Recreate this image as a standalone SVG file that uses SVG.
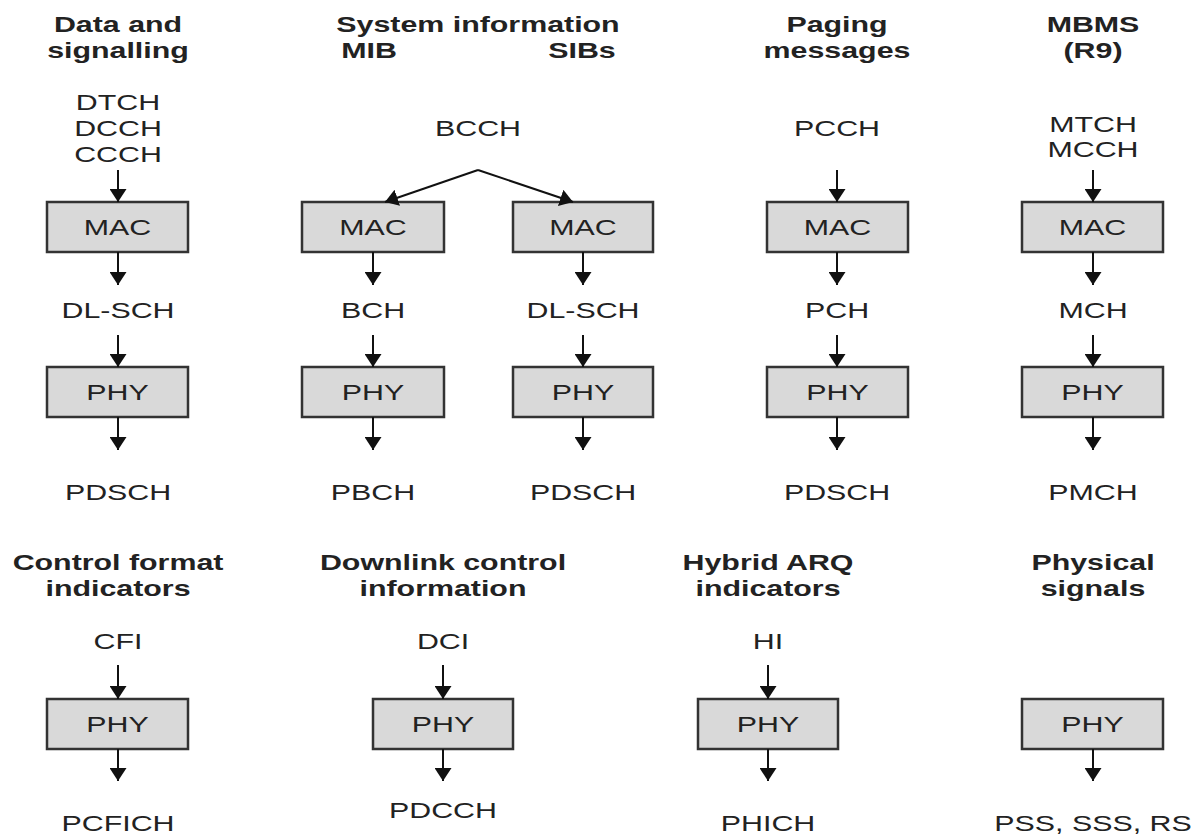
<svg xmlns="http://www.w3.org/2000/svg" width="1200" height="834" viewBox="0 0 1200 834">
<style>
.t{font-family:"Liberation Sans",Arial,Helvetica,sans-serif;font-size:22px;fill:#222;text-anchor:middle}
.b{font-weight:bold}
.box{fill:#d9d9d9;stroke:#333;stroke-width:2.5}
.c{fill:none;stroke:#111;stroke-width:2;marker-end:url(#ah)}
</style>
<defs>
<marker id="ah" viewBox="0 0 13 17" markerWidth="13" markerHeight="17" refX="13" refY="8.5" orient="auto" markerUnits="userSpaceOnUse">
<path d="M0,0 L13,8.5 L0,17 z" fill="#111"/>
</marker>
</defs>
<rect width="1200" height="834" fill="#fff"/>

<!-- Titles -->
<g id="title-data">
<text class="t b" transform="translate(118 32) scale(1.38 1)">Data and</text>
<text class="t b" transform="translate(118 58) scale(1.38 1)">signalling</text>
</g>
<g id="title-sysinfo">
<text class="t b" transform="translate(478 32) scale(1.38 1)">System information</text>
<text class="t b" transform="translate(369 58) scale(1.38 1)">MIB</text>
<text class="t b" transform="translate(582 58) scale(1.38 1)">SIBs</text>
</g>
<g id="title-paging">
<text class="t b" transform="translate(837 32) scale(1.38 1)">Paging</text>
<text class="t b" transform="translate(837 58) scale(1.38 1)">messages</text>
</g>
<g id="title-mbms">
<text class="t b" transform="translate(1093 32) scale(1.38 1)">MBMS</text>
<text class="t b" transform="translate(1093 58) scale(1.38 1)">(R9)</text>
</g>
<g id="title-cfi">
<text class="t b" transform="translate(118 570) scale(1.38 1)">Control format</text>
<text class="t b" transform="translate(118 596) scale(1.38 1)">indicators</text>
</g>
<g id="title-dci">
<text class="t b" transform="translate(443 570) scale(1.38 1)">Downlink control</text>
<text class="t b" transform="translate(443 596) scale(1.38 1)">information</text>
</g>
<g id="title-hi">
<text class="t b" transform="translate(768 570) scale(1.38 1)">Hybrid ARQ</text>
<text class="t b" transform="translate(768 596) scale(1.38 1)">indicators</text>
</g>
<g id="title-phys">
<text class="t b" transform="translate(1093 570) scale(1.38 1)">Physical</text>
<text class="t b" transform="translate(1093 596) scale(1.38 1)">signals</text>
</g>

<!-- Logical channels -->
<g id="lc-data">
<text class="t" transform="translate(118 110) scale(1.38 1)">DTCH</text>
<text class="t" transform="translate(118 136) scale(1.38 1)">DCCH</text>
<text class="t" transform="translate(118 162) scale(1.38 1)">CCCH</text>
</g>
<g id="lc-bcch"><text class="t" transform="translate(478 136) scale(1.38 1)">BCCH</text></g>
<g id="lc-pcch"><text class="t" transform="translate(837 136) scale(1.38 1)">PCCH</text></g>
<g id="lc-mbms">
<text class="t" transform="translate(1093 132) scale(1.38 1)">MTCH</text>
<text class="t" transform="translate(1093 157) scale(1.38 1)">MCCH</text>
</g>

<!-- MAC boxes -->
<g id="mac-1"><rect class="box" x="47" y="202" width="141" height="50"/><text class="t" transform="translate(117.5 235) scale(1.38 1)">MAC</text></g>
<g id="mac-2a"><rect class="box" x="302" y="202" width="142" height="50"/><text class="t" transform="translate(373 235) scale(1.38 1)">MAC</text></g>
<g id="mac-2b"><rect class="box" x="513" y="202" width="140" height="50"/><text class="t" transform="translate(583 235) scale(1.38 1)">MAC</text></g>
<g id="mac-3"><rect class="box" x="767" y="202" width="141" height="50"/><text class="t" transform="translate(837.5 235) scale(1.38 1)">MAC</text></g>
<g id="mac-4"><rect class="box" x="1022" y="202" width="141" height="50"/><text class="t" transform="translate(1092.5 235) scale(1.38 1)">MAC</text></g>

<!-- Transport channels -->
<g id="tc-1"><text class="t" transform="translate(118 318) scale(1.38 1)">DL-SCH</text></g>
<g id="tc-2a"><text class="t" transform="translate(373 318) scale(1.38 1)">BCH</text></g>
<g id="tc-2b"><text class="t" transform="translate(583 318) scale(1.38 1)">DL-SCH</text></g>
<g id="tc-3"><text class="t" transform="translate(837 318) scale(1.38 1)">PCH</text></g>
<g id="tc-4"><text class="t" transform="translate(1093 318) scale(1.38 1)">MCH</text></g>

<!-- PHY boxes top -->
<g id="phy-1"><rect class="box" x="47" y="367" width="141" height="50"/><text class="t" transform="translate(117.5 400) scale(1.38 1)">PHY</text></g>
<g id="phy-2a"><rect class="box" x="302" y="367" width="142" height="50"/><text class="t" transform="translate(373 400) scale(1.38 1)">PHY</text></g>
<g id="phy-2b"><rect class="box" x="513" y="367" width="140" height="50"/><text class="t" transform="translate(583 400) scale(1.38 1)">PHY</text></g>
<g id="phy-3"><rect class="box" x="767" y="367" width="141" height="50"/><text class="t" transform="translate(837.5 400) scale(1.38 1)">PHY</text></g>
<g id="phy-4"><rect class="box" x="1022" y="367" width="141" height="50"/><text class="t" transform="translate(1092.5 400) scale(1.38 1)">PHY</text></g>

<!-- Physical channels top -->
<g id="pc-1"><text class="t" transform="translate(118 500) scale(1.38 1)">PDSCH</text></g>
<g id="pc-2a"><text class="t" transform="translate(373 500) scale(1.38 1)">PBCH</text></g>
<g id="pc-2b"><text class="t" transform="translate(583 500) scale(1.38 1)">PDSCH</text></g>
<g id="pc-3"><text class="t" transform="translate(837 500) scale(1.38 1)">PDSCH</text></g>
<g id="pc-4"><text class="t" transform="translate(1093 500) scale(1.38 1)">PMCH</text></g>

<!-- Bottom inputs -->
<g id="in-cfi"><text class="t" transform="translate(118 649) scale(1.38 1)">CFI</text></g>
<g id="in-dci"><text class="t" transform="translate(443 649) scale(1.38 1)">DCI</text></g>
<g id="in-hi"><text class="t" transform="translate(768 649) scale(1.38 1)">HI</text></g>

<!-- PHY boxes bottom -->
<g id="phy-cfi"><rect class="box" x="47" y="699" width="141" height="50"/><text class="t" transform="translate(117.5 732) scale(1.38 1)">PHY</text></g>
<g id="phy-dci"><rect class="box" x="373" y="699" width="140" height="50"/><text class="t" transform="translate(443 732) scale(1.38 1)">PHY</text></g>
<g id="phy-hi"><rect class="box" x="698" y="699" width="140" height="50"/><text class="t" transform="translate(768 732) scale(1.38 1)">PHY</text></g>
<g id="phy-sig"><rect class="box" x="1022" y="699" width="141" height="50"/><text class="t" transform="translate(1092.5 732) scale(1.38 1)">PHY</text></g>

<!-- Bottom outputs -->
<g id="out-cfi"><text class="t" transform="translate(118 831) scale(1.38 1)">PCFICH</text></g>
<g id="out-dci"><text class="t" transform="translate(443 818) scale(1.38 1)">PDCCH</text></g>
<g id="out-hi"><text class="t" transform="translate(768 831) scale(1.38 1)">PHICH</text></g>
<g id="out-sig"><text class="t" transform="translate(1093 831) scale(1.38 1)">PSS, SSS, RS</text></g>

<!-- Connectors -->
<g id="connectors">
<path class="c" d="M118,170 V202"/>
<path class="c" d="M478,170 L385,202"/>
<path class="c" d="M478,170 L573,202"/>
<path class="c" d="M837,170 V202"/>
<path class="c" d="M1093,170 V202"/>

<path class="c" d="M118,252 V285"/>
<path class="c" d="M373,252 V285"/>
<path class="c" d="M583,252 V285"/>
<path class="c" d="M837,252 V285"/>
<path class="c" d="M1093,252 V285"/>

<path class="c" d="M118,335 V367"/>
<path class="c" d="M373,335 V367"/>
<path class="c" d="M583,335 V367"/>
<path class="c" d="M837,335 V367"/>
<path class="c" d="M1093,335 V367"/>

<path class="c" d="M118,417 V450"/>
<path class="c" d="M373,417 V450"/>
<path class="c" d="M583,417 V450"/>
<path class="c" d="M837,417 V450"/>
<path class="c" d="M1093,417 V450"/>

<path class="c" d="M118,665 V699"/>
<path class="c" d="M443,665 V699"/>
<path class="c" d="M768,665 V699"/>

<path class="c" d="M118,749 V781"/>
<path class="c" d="M443,749 V781"/>
<path class="c" d="M768,749 V781"/>
<path class="c" d="M1093,749 V781"/>
</g>
</svg>
